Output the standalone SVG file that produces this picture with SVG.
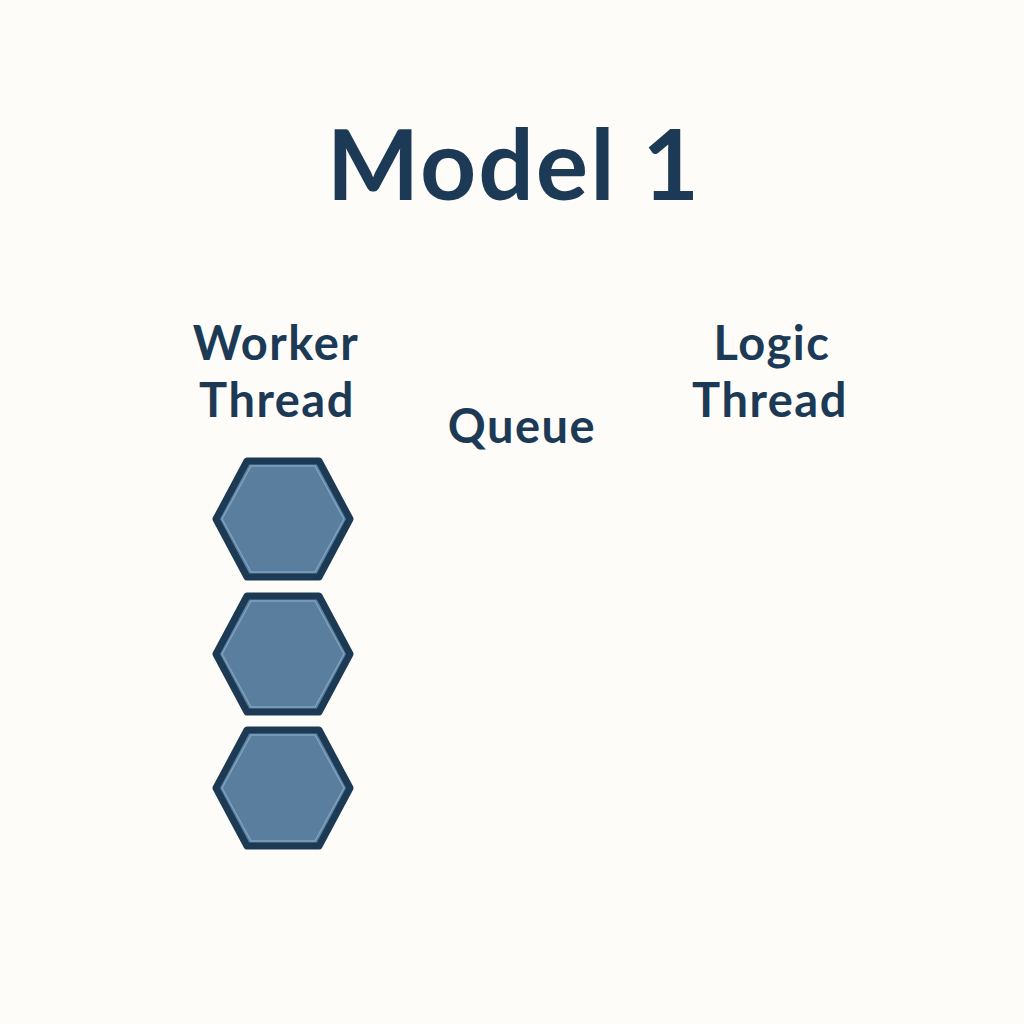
<svg xmlns="http://www.w3.org/2000/svg" width="1024" height="1024" viewBox="0 0 1024 1024">
<style>
.t{font-family:Lato,"Noto Sans",sans-serif;fill:#1c3a56;text-anchor:middle}
.lbl{font-size:47px;font-weight:700;letter-spacing:1.5px}
.hex{fill:#5a7f9e;stroke:#1d3a55;stroke-width:7;stroke-linejoin:round}
.hin{fill:none;stroke:#7fa2c0;stroke-width:1.5;stroke-linejoin:round}
</style>
<defs>
<path id="hx" d="M-67,0 L-36,-58 L36,-58 L67,0 L36,58 L-36,58 Z"/>
<path id="hi" d="M-61,0 L-32,-53 L32,-53 L61,0 L32,53 L-32,53 Z"/>
</defs>
<rect width="1024" height="1024" fill="#fdfcf8"/>
<text class="t" x="514" y="200" font-size="98" font-weight="700" letter-spacing="2">Model 1</text>
<g id="worker-label"><text class="t lbl" x="276" y="360">Worker</text><text class="t lbl" x="277" y="417">Thread</text></g>
<g id="queue-label"><text class="t lbl" x="522" y="443">Queue</text></g>
<g id="logic-label"><text class="t lbl" x="772" y="360">Logic</text><text class="t lbl" x="770" y="417">Thread</text></g>
<g id="hex1" transform="translate(283,519)"><use href="#hx" class="hex"/><use href="#hi" class="hin"/></g>
<g id="hex2" transform="translate(283,654)"><use href="#hx" class="hex"/><use href="#hi" class="hin"/></g>
<g id="hex3" transform="translate(283,788)"><use href="#hx" class="hex"/><use href="#hi" class="hin"/></g>
<g id="connectors"></g>
</svg>
